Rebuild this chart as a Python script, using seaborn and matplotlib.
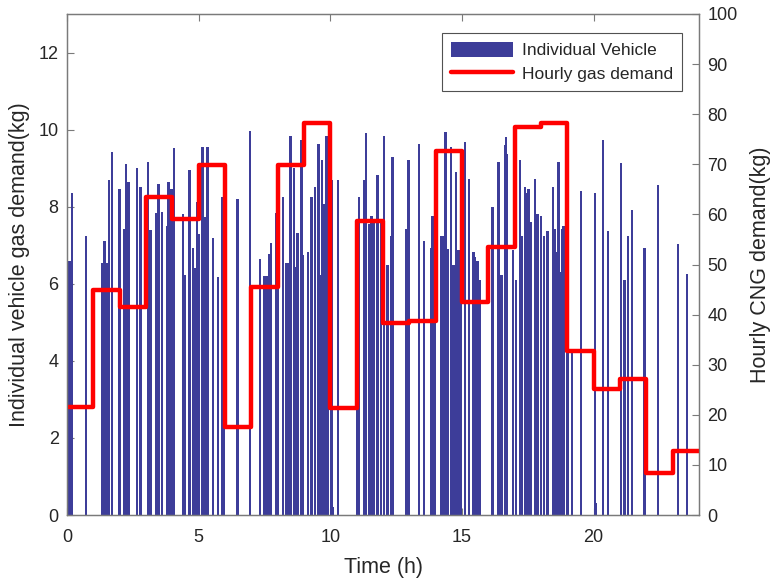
import numpy as np
import pandas as pd
import matplotlib
matplotlib.use("Agg")
import matplotlib.pyplot as plt
import seaborn as sns

# individual vehicle demands: arrival time (h) and gas demand (kg)
veh_time = [0.05, 0.15, 0.68, 1.28, 1.38, 1.47, 1.55, 1.67, 1.95, 2.14, 2.20, 2.29,
            2.62, 2.74, 3.03, 3.13, 3.35, 3.43, 3.56, 3.76, 3.81, 3.92, 4.02, 4.36,
            4.42, 4.61, 4.74, 4.83, 4.90, 4.97, 5.10, 5.18, 5.29, 5.50, 5.69, 5.84,
            5.92, 6.43, 6.90, 7.29, 7.46, 7.54, 7.62, 7.69, 7.91, 7.97, 8.16, 8.26,
            8.33, 8.44, 8.57, 8.66, 8.71, 8.86, 8.92, 9.11, 9.24, 9.37, 9.50, 9.56,
            9.65, 9.72, 9.81, 9.87, 10.00, 10.06, 10.25, 10.99, 11.05, 11.23, 11.30,
            11.43, 11.52, 11.61, 11.74, 11.87, 11.99, 12.13, 12.26, 12.32, 12.85,
            12.92, 13.32, 13.52, 13.78, 13.84, 13.93, 14.16, 14.25, 14.33, 14.41,
            14.54, 14.63, 14.73, 14.82, 14.90, 15.07, 15.22, 15.39, 15.45, 15.55,
            15.62, 16.12, 16.34, 16.46, 16.59, 16.62, 16.66, 16.88, 17.00, 17.16,
            17.22, 17.35, 17.41, 17.48, 17.57, 17.73, 17.82, 17.95, 18.07, 18.20,
            18.40, 18.49, 18.56, 18.62, 18.68, 18.75, 18.81, 18.96, 19.13, 19.47,
            20.01, 20.05, 20.30, 20.49, 21.00, 21.13, 21.25, 21.41, 21.89, 22.40,
            23.16, 23.50]
veh_demand = [6.6, 8.35, 7.23, 6.53, 7.12, 6.53, 8.68, 9.43, 8.45, 7.43, 9.11, 8.65,
              9.0, 8.52, 9.15, 7.4, 7.83, 8.6, 7.86, 7.5, 8.63, 8.47, 9.52, 7.8,
              6.22, 8.94, 6.93, 6.4, 8.12, 7.28, 9.54, 7.73, 9.54, 7.18, 6.17, 8.26,
              7.44, 8.2, 9.97, 6.65, 6.2, 6.2, 6.78, 7.05, 7.83, 7.83, 8.26, 6.53,
              6.53, 9.84, 9.0, 6.43, 7.32, 9.72, 6.75, 6.82, 8.25, 8.5, 9.63, 6.22,
              9.21, 8.07, 9.84, 6.17, 8.7, 0.2, 8.68, 7.21, 8.26, 8.68, 9.91,
              7.56, 7.75, 7.62, 8.81, 7.62, 9.84, 6.48, 7.25, 9.28, 7.43,
              9.22, 9.63, 7.12, 6.93, 7.75, 8.75, 7.25, 7.25, 9.93, 6.91,
              9.56, 6.49, 8.89, 6.87, 6.13, 9.67, 8.72, 6.82, 6.7, 6.59,
              6.1, 8.0, 9.15, 6.22, 9.59, 9.82, 9.37, 6.87, 6.09, 9.22,
              7.23, 8.52, 8.35, 8.46, 7.6, 8.72, 7.82, 7.75, 7.23, 7.38,
              8.52, 7.43, 6.82, 9.15, 6.3, 7.43, 7.51, 7.5, 4.23, 8.4,
              8.35, 0.3, 9.72, 7.36, 9.13, 6.09, 7.25, 7.92, 6.93, 8.55,
              7.04, 6.26]

# hourly CNG demand (kg), hour 0..23
hours = list(range(25))
hourly_demand = [21.5, 45, 41.5, 63.5, 59, 69.8, 17.6, 45.6, 69.8, 78.3, 21.3, 58.7,
                 38.3, 38.7, 72.7, 42.6, 53.5, 77.5, 78.3, 32.7, 25.1, 27.1, 8.3, 12.8]
hourly_demand = hourly_demand + [hourly_demand[-1]]

sns.set_style("white")
plt.rcParams['font.family'] = ['Liberation Sans', 'DejaVu Sans']

bar_color = '#3d3d99'
axis_gray = '#7a7a7a'
text_col = '#262626'

fig = plt.figure(figsize=(7.77, 5.8), dpi=100)
ax = fig.add_axes([67 / 777, 1 - 515 / 580, (699 - 67) / 777, (515 - 14) / 580])

bars = ax.bar(veh_time, veh_demand, width=0.09, color=bar_color, edgecolor='none',
              align='edge', label='Individual Vehicle')
ax.set_xlim(0, 24)
ax.set_ylim(0, 13)
ax.set_xticks([0, 5, 10, 15, 20])
ax.set_yticks([0, 2, 4, 6, 8, 10, 12])
ax.set_xlabel('Time (h)', fontsize=15.5, color=text_col, labelpad=8)
ax.set_ylabel('Individual vehicle gas demand(kg)', fontsize=15.5, color=text_col,
              labelpad=6)
ax.tick_params(axis='both', direction='in', length=5, width=0.8, color=axis_gray,
               labelsize=13, labelcolor=text_col, top=True, right=True,
               bottom=True, left=True)
ax.tick_params(axis='x', pad=10)
ax.tick_params(axis='y', pad=6)

ax2 = ax.twinx()
df = pd.DataFrame({'hour': hours, 'demand': hourly_demand})
sns.lineplot(data=df, x='hour', y='demand', ax=ax2, color='#ff0000', linewidth=3.2,
             drawstyle='steps-post', estimator=None, legend=False,
             label='Hourly gas demand')
ax2.set_ylim(0, 100)
ax2.set_xlim(0, 24)
ax2.set_yticks(range(0, 101, 10))
ax2.set_ylabel('Hourly CNG demand(kg)', fontsize=15.5, color=text_col, labelpad=9)
ax2.set_xlabel('')
ax2.tick_params(axis='y', direction='in', length=5, width=0.8, color=axis_gray,
                labelsize=13, labelcolor=text_col, pad=6)

for a in (ax, ax2):
    for sp in a.spines.values():
        sp.set_color(axis_gray)
        sp.set_linewidth(0.9)

line = ax2.get_lines()[0]
leg = ax2.legend([bars, line], ['Individual Vehicle', 'Hourly gas demand'],
                 loc='upper right', bbox_to_anchor=(0.973, 0.962), fontsize=12.5,
                 frameon=True, fancybox=False, edgecolor='#262626',
                 handlelength=3.6, handleheight=1.0, borderaxespad=0,
                 borderpad=0.5, labelspacing=0.4, handletextpad=0.5)
leg.get_frame().set_linewidth(0.8)

fig.savefig('out.png', dpi=100)
